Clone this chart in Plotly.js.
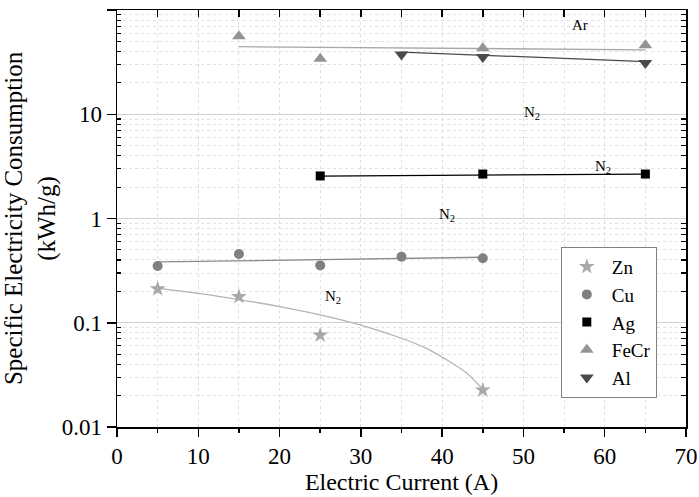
<!DOCTYPE html>
<html><head><meta charset="utf-8">
<script src="https://cdn.plot.ly/plotly-3.0.1.min.js"></script>
<style>body{margin:0;background:#fff}#c{width:699px;height:497px}</style>
</head><body><div id="c"></div>
<script>
// Data
const znX = [5, 15, 25, 45];
const znY = [0.211, 0.178, 0.076, 0.0226];
const cuX = [5, 15, 25, 35, 45];
const cuY = [0.35, 0.457, 0.355, 0.43, 0.415];
const agX = [25, 45, 65];
const agY = [2.56, 2.67, 2.67];
const fecrX = [15, 25, 45, 65];
const fecrY = [56, 34, 43, 46];
const alX = [35, 45, 65];
const alY = [37.5, 35.5, 31];

// Trend lines
const znFitX = [5, 10, 15, 20, 25, 30, 35, 38, 41, 43, 45];
const znFitY = [0.215, 0.191, 0.167, 0.143, 0.119, 0.095, 0.071, 0.057, 0.042, 0.033, 0.023];
const cuFitX = [5, 45];
const cuFitY = [0.383, 0.425];
const agFitX = [25, 65];
const agFitY = [2.55, 2.67];
const fecrFitX = [15, 65];
const fecrFitY = [44.5, 41.5];
const alFitX = [35, 65];
const alFitY = [39.5, 32];

const labels = [
  {x: 57.0, y: 72, t: 'Ar'},
  {x: 51.0, y: 10.3, t: 'N<sub>2</sub>'},
  {x: 59.8, y: 3.12, t: 'N<sub>2</sub>'},
  {x: 40.6, y: 1.08, t: 'N<sub>2</sub>'},
  {x: 26.6, y: 0.177, t: 'N<sub>2</sub>'}
];
const xTickVals = [0, 10, 20, 30, 40, 50, 60, 70];
const xMinorVals = [5, 15, 25, 35, 45, 55, 65];
const yTickVals = [0.01, 0.1, 1, 10, 100];
const yTickText = ['0.01', '0.1', '1', '10', '100'];
const yMinorVals = [];
yTickVals.slice(0, -1).forEach(d => { for (let m = 2; m <= 9; m++) yMinorVals.push(d * m); });

const F = 'Liberation Serif';

function fit(x, y, color, shape) {
  return {x: x, y: y, mode: 'lines', line: {color: color, width: 1.3, shape: shape || 'linear', smoothing: 1},
          showlegend: false, hoverinfo: 'skip'};
}
function pts(x, y, name, sym, color, size) {
  return {x: x, y: y, mode: 'markers', name: name,
          marker: {symbol: sym, color: color, size: size}};
}

const data = [
  {x: [], y: [], xaxis: 'x3', yaxis: 'y3', showlegend: false, hoverinfo: 'skip', mode: 'markers'},
  {x: [], y: [], xaxis: 'x2', yaxis: 'y2', showlegend: false, hoverinfo: 'skip', mode: 'markers'},
  fit(znFitX, znFitY, '#b4b4b4', 'spline'),
  fit(cuFitX, cuFitY, '#8a8a8a'),
  fit(agFitX, agFitY, '#000000'),
  fit(fecrFitX, fecrFitY, '#a8a8a8'),
  fit(alFitX, alFitY, '#4a4a4a'),
  pts(znX, znY, 'Zn', 'star', '#a9a9a9', 12),
  pts(cuX, cuY, 'Cu', 'circle', '#808080', 10),
  pts(agX, agY, 'Ag', 'square', '#000000', 9),
  pts(fecrX, fecrY, 'FeCr', 'triangle-up', '#949494', 12),
  pts(alX, alY, 'Al', 'triangle-down', '#4a4a4a', 12)
];

const layout = {
  width: 699, height: 497,
  margin: {l: 117, r: 13, t: 10, b: 70},
  paper_bgcolor: '#fff', plot_bgcolor: 'rgba(0,0,0,0)',
  font: {family: F, size: 23, color: '#000'},
  showlegend: true,
  legend: {x: 0.78, y: 0.432, xanchor: 'left', yanchor: 'top',
           bordercolor: '#808080', borderwidth: 1, bgcolor: '#fff',
           font: {family: F, size: 19, color: '#000'}, tracegroupgap: 0, itemwidth: 40},
  xaxis: {
    range: [0, 70], tickvals: xTickVals,
    ticks: 'outside', ticklen: 8, tickwidth: 1.5, tickcolor: '#000',
    showline: true, linecolor: '#000', linewidth: 1.5, mirror: true,
    showgrid: true, gridcolor: '#dddddd', griddash: 'dot', gridwidth: 1,
    zeroline: false,
    title: {text: 'Electric Current (A)', font: {family: F, size: 24}, standoff: 4},
    tickfont: {family: F, size: 23, color: '#000'}
  },
  yaxis: {
    type: 'log', range: [-2, 2],
    tickvals: yTickVals, ticktext: yTickText,
    ticks: 'outside', ticklen: 9, tickwidth: 1.5, tickcolor: '#000',
    showline: true, linecolor: '#000', linewidth: 1.5, mirror: true,
    showgrid: true, gridcolor: '#d0d0d0', gridwidth: 1,
    zeroline: false,
    title: {text: 'Specific Electricity Consumption<br>(kWh/g)', font: {family: F, size: 25}, standoff: 2},
    tickfont: {family: F, size: 23, color: '#000'}
  },
  xaxis3: {
    overlaying: 'x', side: 'bottom', anchor: 'y3', range: [0, 70], tickvals: xMinorVals,
    ticks: 'outside', ticklen: 5, tickwidth: 1.5, tickcolor: '#000', showticklabels: false,
    showgrid: true, gridcolor: '#e2e2e2', griddash: 'dot', zeroline: false, showline: false
  },
  yaxis3: {
    overlaying: 'y', side: 'left', anchor: 'x3', type: 'log', range: [-2, 2], tickvals: yMinorVals,
    ticks: 'inside', ticklen: 4, tickwidth: 1.2, tickcolor: '#000', showticklabels: false,
    showgrid: true, gridcolor: '#e2e2e2', griddash: 'dot', zeroline: false, showline: false
  },
  xaxis2: {
    overlaying: 'x', side: 'top', anchor: 'y2', range: [0, 70], tickvals: xTickVals.concat(xMinorVals),
    ticks: 'inside', ticklen: 7, tickwidth: 1.5, tickcolor: '#000', showticklabels: false,
    showgrid: false, zeroline: false, showline: false
  },
  yaxis2: {
    overlaying: 'y', side: 'right', anchor: 'x2', type: 'log', range: [-2, 2], tickvals: yMinorVals,
    ticks: 'inside', ticklen: 5, tickwidth: 1.2, tickcolor: '#000', showticklabels: false,
    showgrid: false, zeroline: false, showline: false
  },
  annotations: labels.map(l => ({x: l.x, y: Math.log10(l.y), xref: 'x', yref: 'y', text: l.t,
    showarrow: false, font: {family: F, size: 15, color: '#000'}}))
};

Plotly.newPlot('c', data, layout, {displayModeBar: false, staticPlot: true});
</script>
</body></html>
